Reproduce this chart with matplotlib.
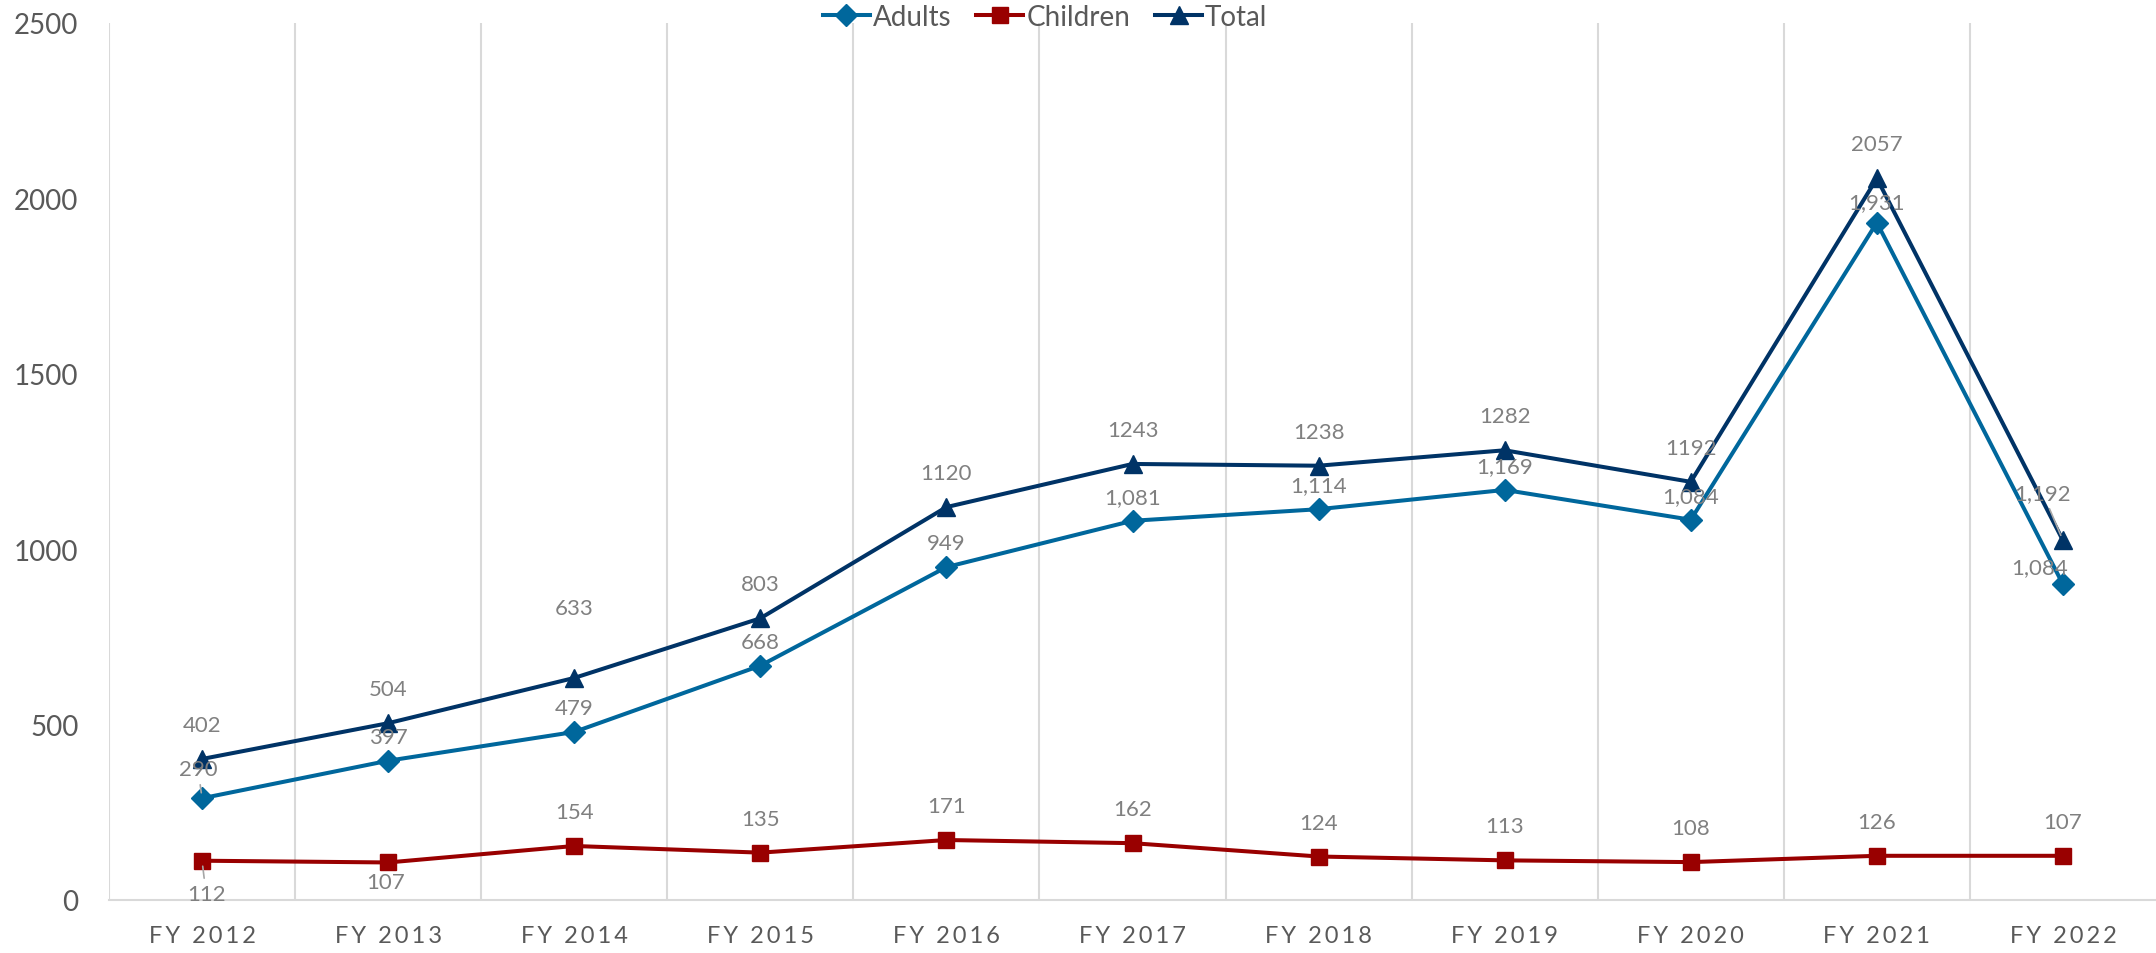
import matplotlib
matplotlib.use("Agg")
import matplotlib.pyplot as plt
import numpy as np

# data
years = ["FY 2012", "FY 2013", "FY 2014", "FY 2015", "FY 2016", "FY 2017",
         "FY 2018", "FY 2019", "FY 2020", "FY 2021", "FY 2022"]
adults = [290, 397, 479, 668, 949, 1081, 1114, 1169, 1084, 1931, 900]
children = [112, 107, 154, 135, 171, 162, 124, 113, 108, 126, 126]
total = [402, 504, 633, 803, 1120, 1243, 1238, 1282, 1192, 2057, 1025]

# data labels as printed in the chart (the FY 2022 ones don't match the points)
adults_labels = ["290", "397", "479", "668", "949", "1,081", "1,114", "1,169",
                 "1,084", "1,931", "1,084"]
children_labels = ["112", "107", "154", "135", "171", "162", "124", "113",
                   "108", "126", "107"]
total_labels = ["402", "504", "633", "803", "1120", "1243", "1238", "1282",
                "1192", "2057", "1,192"]

yticks = [0, 500, 1000, 1500, 2000, 2500]

plt.rcParams["font.family"] = ["Lato", "DejaVu Sans"]

C_ADULT = "#00679c"
C_CHILD = "#990000"
C_TOTAL = "#003366"
C_LABEL = "#808080"
C_TICK = "#595959"
C_GRID = "#d9d9d9"

fig = plt.figure(figsize=(21.56, 9.54), dpi=100)
ax = fig.add_axes([109 / 2156, 53 / 954, 2047 / 2156, 877 / 954])

x = np.arange(len(years))
ax.plot(x, adults, color=C_ADULT, lw=2.9, marker="D", ms=11, label="Adults", zorder=3)
ax.plot(x, children, color=C_CHILD, lw=2.9, marker="s", ms=12, label="Children", zorder=3)
ax.plot(x, total, color=C_TOTAL, lw=2.9, marker="^", ms=13, label="Total", zorder=4)

# label offsets in pixels (dx, dy); default is straight above the marker
px = 72 / 100.0
def put_labels(vals, labels, default, special):
    for i, (v, lab) in enumerate(zip(vals, labels)):
        dx, dy, leader = special.get(i, (0, default, False))
        kw = {}
        if leader:
            kw["arrowprops"] = dict(arrowstyle="-", color="#a6a6a6", lw=1.2,
                                    shrinkA=2, shrinkB=4)
        ax.annotate(lab, (i, v), xytext=(dx * px, dy * px), textcoords="offset points",
                    ha="center", va="center", fontsize=16, color=C_LABEL, zorder=5, **kw)

put_labels(total, total_labels, 34, {2: (0, 70, False), 10: (-20, 47, True)})
put_labels(adults, adults_labels, 24, {0: (-4, 29, True), 9: (0, 21, False),
                                       10: (-23, 17, False)})
put_labels(children, children_labels, 34, {0: (4, -33, True), 1: (-3, -20, False)})

ax.set_xlim(-0.5, len(years) - 0.5)
ax.set_ylim(0, 2500)
ax.set_yticks(yticks)
ax.set_yticklabels([str(t) for t in yticks])
ax.set_xticks(x)
ax.set_xticklabels(["\u2009".join(y) for y in years])
ax.set_xticks(np.arange(-0.5, len(years) - 0.5, 1.0), minor=True)
ax.grid(which="minor", axis="x", color=C_GRID, lw=1.5)
ax.grid(which="major", visible=False)
ax.tick_params(axis="both", which="both", length=0)
ax.tick_params(axis="y", labelsize=20, labelcolor=C_TICK, pad=22)
ax.tick_params(axis="x", labelsize=17, labelcolor=C_TICK, pad=18)

for s in ["top", "right", "left"]:
    ax.spines[s].set_visible(False)
ax.spines["bottom"].set_color(C_GRID)
ax.spines["bottom"].set_linewidth(1.5)

fig.legend(loc="center", bbox_to_anchor=(1045 / 2156, 1 - 18 / 954), ncol=3,
           frameon=False, fontsize=20, handlelength=1.7, handletextpad=0.1,
           columnspacing=0.9, labelcolor=C_TICK)

fig.savefig("out.png", dpi=100)
